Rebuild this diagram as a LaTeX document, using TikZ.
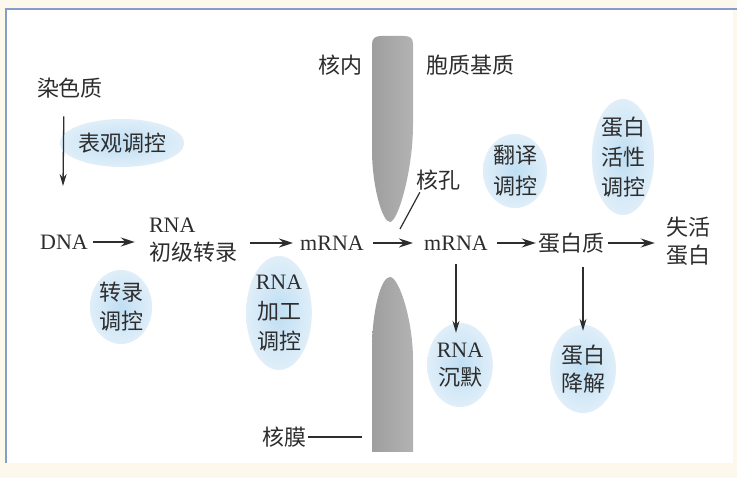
\documentclass[tikz,border=0pt]{standalone}
\usepackage{fontspec}
\setmainfont{Liberation Serif}
\newfontfamily\cjk{Noto Sans CJK SC}
\usepackage{tikz}
\usetikzlibrary{
  arrows.meta,
  positioning,
  shapes.geometric
}
\newcommand{\zh}[1]{{\cjk #1}}
\definecolor{frameblue}{RGB}{135,155,205}
\definecolor{papercream}{RGB}{252,249,236}
\definecolor{blobblue}{RGB}{192,222,243}
\definecolor{inkgray}{RGB}{45,45,45}
\tikzset{
  term/.style={
    inner sep=2pt,
    align=center,
    text=inkgray,
    font=\fontsize{22}{28}\selectfont
  },
  regblob/.style={
    ellipse,
    inner sep=0pt,
    align=center,
    text=inkgray,
    inner color=blobblue,
    outer color=blobblue!50,
    font=\fontsize{22}{29}\selectfont
  },
  flowarrow/.style={-{Stealth[length=14pt,width=9pt]},line width=1.8pt,draw=inkgray},
  downarrow/.style={-{Stealth[length=12pt,width=7pt]},line width=1.3pt,draw=inkgray},
  leader/.style={line width=1.2pt,draw=inkgray},
  membrane/.style={draw=none,left color=black!38,middle color=black!68,right color=black!30}
}

\begin{document}
\begin{tikzpicture}[x=1pt,y=-1pt]
  \useasboundingbox (0,0) rectangle (737,478);
  \fill[papercream] (0,0) rectangle (737,478);
  \fill[white] (6,9) rectangle (733,463);
  \draw[frameblue,line width=2pt] (6,463) -- (6,9) -- (737,9);

  % nuclear envelope
  \path[membrane] (372,44)
    .. controls (372,38) and (376,36) .. (381,36) -- (404,36)
    .. controls (410,36) and (413,38) .. (413,44) -- (413,125)
    .. controls (413,170) and (398,222) .. (390,222)
    .. controls (382,222) and (372,185) .. (372,150) -- cycle;
  \path[membrane] (390,277)
    .. controls (399,277) and (413,320) .. (413,360) -- (413,452)
    -- (372,452) -- (372,350)
    .. controls (372,310) and (381,277) .. (390,277) -- cycle;

  % regulation blobs
  \node[regblob,minimum width=112pt,minimum height=48pt] (epireg) at (122,143) {\zh{表观调控}};
  \node[regblob,minimum width=62pt,minimum height=74pt] (txreg) at (121,307) {\zh{转录}\\\zh{调控}};
  \node[regblob,minimum width=64pt,minimum height=114pt,font=\fontsize{22}{30}\selectfont] (procreg) at (279,313) {RNA\\\zh{加工}\\\zh{调控}};
  \node[regblob,minimum width=64pt,minimum height=74pt,font=\fontsize{22}{31}\selectfont] (transreg) at (515,171) {\zh{翻译}\\\zh{调控}};
  \node[regblob,minimum width=60pt,minimum height=116pt,font=\fontsize{22}{30}\selectfont] (actreg) at (623,157) {\zh{蛋白}\\\zh{活性}\\\zh{调控}};
  \node[regblob,minimum width=64pt,minimum height=84pt,font=\fontsize{22}{28}\selectfont] (silence) at (460,365) {RNA\\\zh{沉默}};
  \node[regblob,minimum width=66pt,minimum height=88pt,font=\fontsize{22}{28}\selectfont] (degrade) at (583,369) {\zh{蛋白}\\\zh{降解}};

  % main chain
  \node[term] (chromatin) at (70,88) {\zh{染色质}};
  \node[term] (dna) at (64,242) {DNA};
  \node[term,align=left] (pretx) at (193,240) {RNA\\\zh{初级转录}};
  \node[term] (mrnaA) at (332,243) {mRNA};
  \node[term] (mrnaB) at (456,243) {mRNA};
  \node[term] (protein) at (571,243) {\zh{蛋白质}};
  \node[term] (inactive) at (688,241) {\zh{失活}\\\zh{蛋白}};

  \node[term] (nucin) at (340,65) {\zh{核内}};
  \node[term] (cytosol) at (470,65) {\zh{胞质基质}};
  \node[term] (pore) at (438,180) {\zh{核孔}};
  \node[term] (envelope) at (284,437) {\zh{核膜}};
  \coordinate (poretip) at (400,229);
  \coordinate (envtip) at (362,437);
  \coordinate (epitip) at (63,186);

  \draw[downarrow,shorten <=16pt] (dna |- chromatin.south) -- (epitip);
  \draw[flowarrow,shorten <=3pt,shorten >=12pt] (dna) -- (dna -| pretx.west);
  \draw[flowarrow,shorten <=11pt,shorten >=5pt] (pretx.east |- mrnaA) -- (mrnaA);
  \draw[flowarrow,shorten <=7pt,shorten >=9pt] (mrnaA) -- (mrnaB);
  \draw[flowarrow,shorten <=7pt] (mrnaB) -- (protein);
  \draw[flowarrow,shorten <=2pt,shorten >=9pt] (protein) -- (protein -| inactive.west);
  \draw[downarrow,shorten <=12pt,shorten >=-10pt] (mrnaB) -- (mrnaB |- silence.north);
  \draw[downarrow,shorten <=12pt,shorten >=-6pt] (protein.south -| degrade) -- (degrade.north);
  \draw[leader] ([xshift=6pt]pore.south west) -- (poretip);
  \draw[leader] (envelope) -- (envtip);
\end{tikzpicture}
\end{document}
